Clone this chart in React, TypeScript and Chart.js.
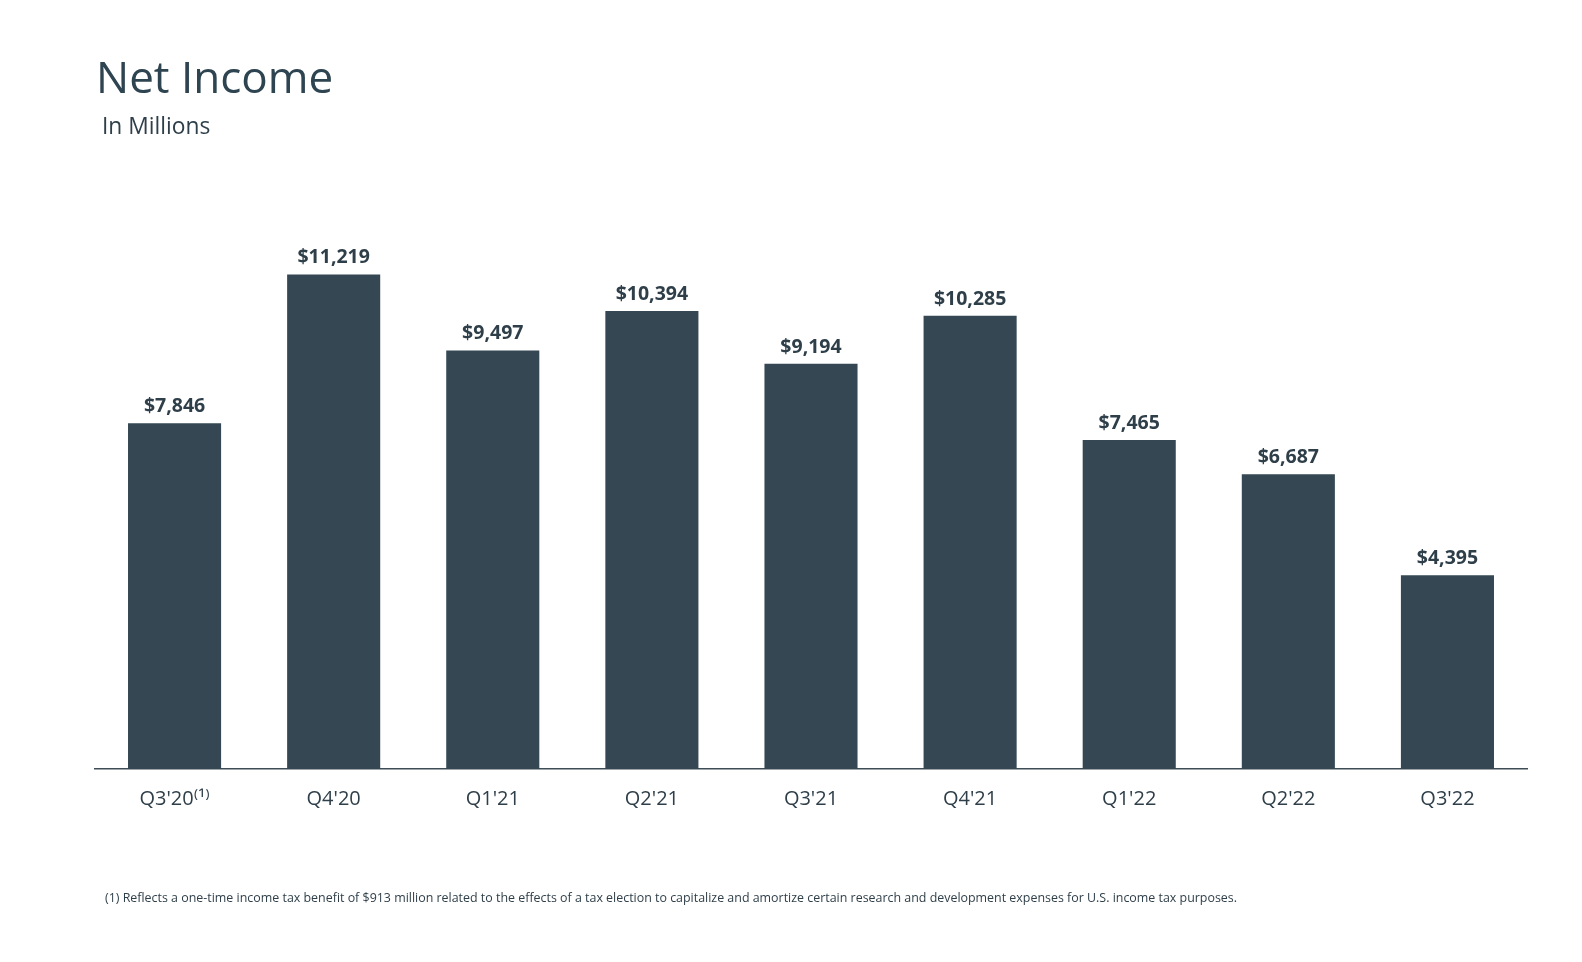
import React, { useEffect, useRef } from "react";
import { Chart, registerables } from "chart.js";

Chart.register(...registerables);

const categories = ["Q3'20⁽¹⁾", "Q4'20", "Q1'21", "Q2'21", "Q3'21", "Q4'21", "Q1'22", "Q2'22", "Q3'22"];
const netIncome = [7846, 11219, 9497, 10394, 9194, 10285, 7465, 6687, 4395];

const BAR = "#344752";
const TEXT = "#2f3f49";
const FONT = "'Open Sans', 'Noto Sans', sans-serif";

const valueLabels = {
  id: "valueLabels",
  afterDatasetsDraw(chart: any) {
    const ctx = chart.ctx;
    const meta = chart.getDatasetMeta(0);
    ctx.save();
    ctx.fillStyle = TEXT;
    ctx.font = `bold 19.5px ${FONT}`;
    ctx.textAlign = "center";
    ctx.textBaseline = "bottom";
    meta.data.forEach((bar: any, i: number) => {
      const v = chart.data.datasets[0].data[i] as number;
      ctx.fillText("$" + v.toLocaleString("en-US"), bar.x, bar.y - 7);
    });
    ctx.restore();
  },
};

export default function App() {
  const ref = useRef<HTMLCanvasElement | null>(null);
  useEffect(() => {
    document.body.style.margin = "0";
    document.body.style.overflow = "hidden";
    if (!ref.current) return;
    const chart = new Chart(ref.current, {
      type: "bar",
      data: {
        labels: categories,
        datasets: [
          {
            data: netIncome,
            backgroundColor: BAR,
            barPercentage: 0.585,
            categoryPercentage: 1,
          },
        ],
      },
      options: {
        responsive: false,
        animation: false,
        layout: { padding: { left: 95, right: 55, top: 152, bottom: 143 } },
        plugins: { legend: { display: false }, tooltip: { enabled: false } },
        scales: {
          x: {
            grid: { display: false, drawTicks: false },
            border: { display: true, color: "#3d4c55", width: 1.5 },
            ticks: { color: TEXT, font: { family: FONT, size: 20 }, padding: 18 },
            afterFit: (scale: any) => {
              scale.height = 50;
            },
          },
          y: { display: false, min: 0, max: 14000 },
        },
      },
      plugins: [valueLabels],
    });
    return () => chart.destroy();
  }, []);

  return (
    <div style={{ position: "relative", width: 1582, height: 962, overflow: "hidden", background: "#fff", fontFamily: FONT, color: TEXT }}>
      <canvas ref={ref} width={1582} height={962} style={{ position: "absolute", left: 0, top: 0 }} />
      <div style={{ position: "absolute", left: 96, top: 46, fontSize: 44, lineHeight: "60px", color: "#2e4450" }}>Net Income</div>
      <div style={{ position: "absolute", left: 102, top: 111, fontSize: 22.8, lineHeight: "30px" }}>In Millions</div>
      <div style={{ position: "absolute", left: 105, top: 889, fontSize: 12.43, lineHeight: "18px", whiteSpace: "nowrap" }}>
        (1) Reflects a one-time income tax benefit of $913 million related to the effects of a tax election to capitalize and amortize certain research and development expenses for U.S. income tax purposes.
      </div>
    </div>
  );
}
